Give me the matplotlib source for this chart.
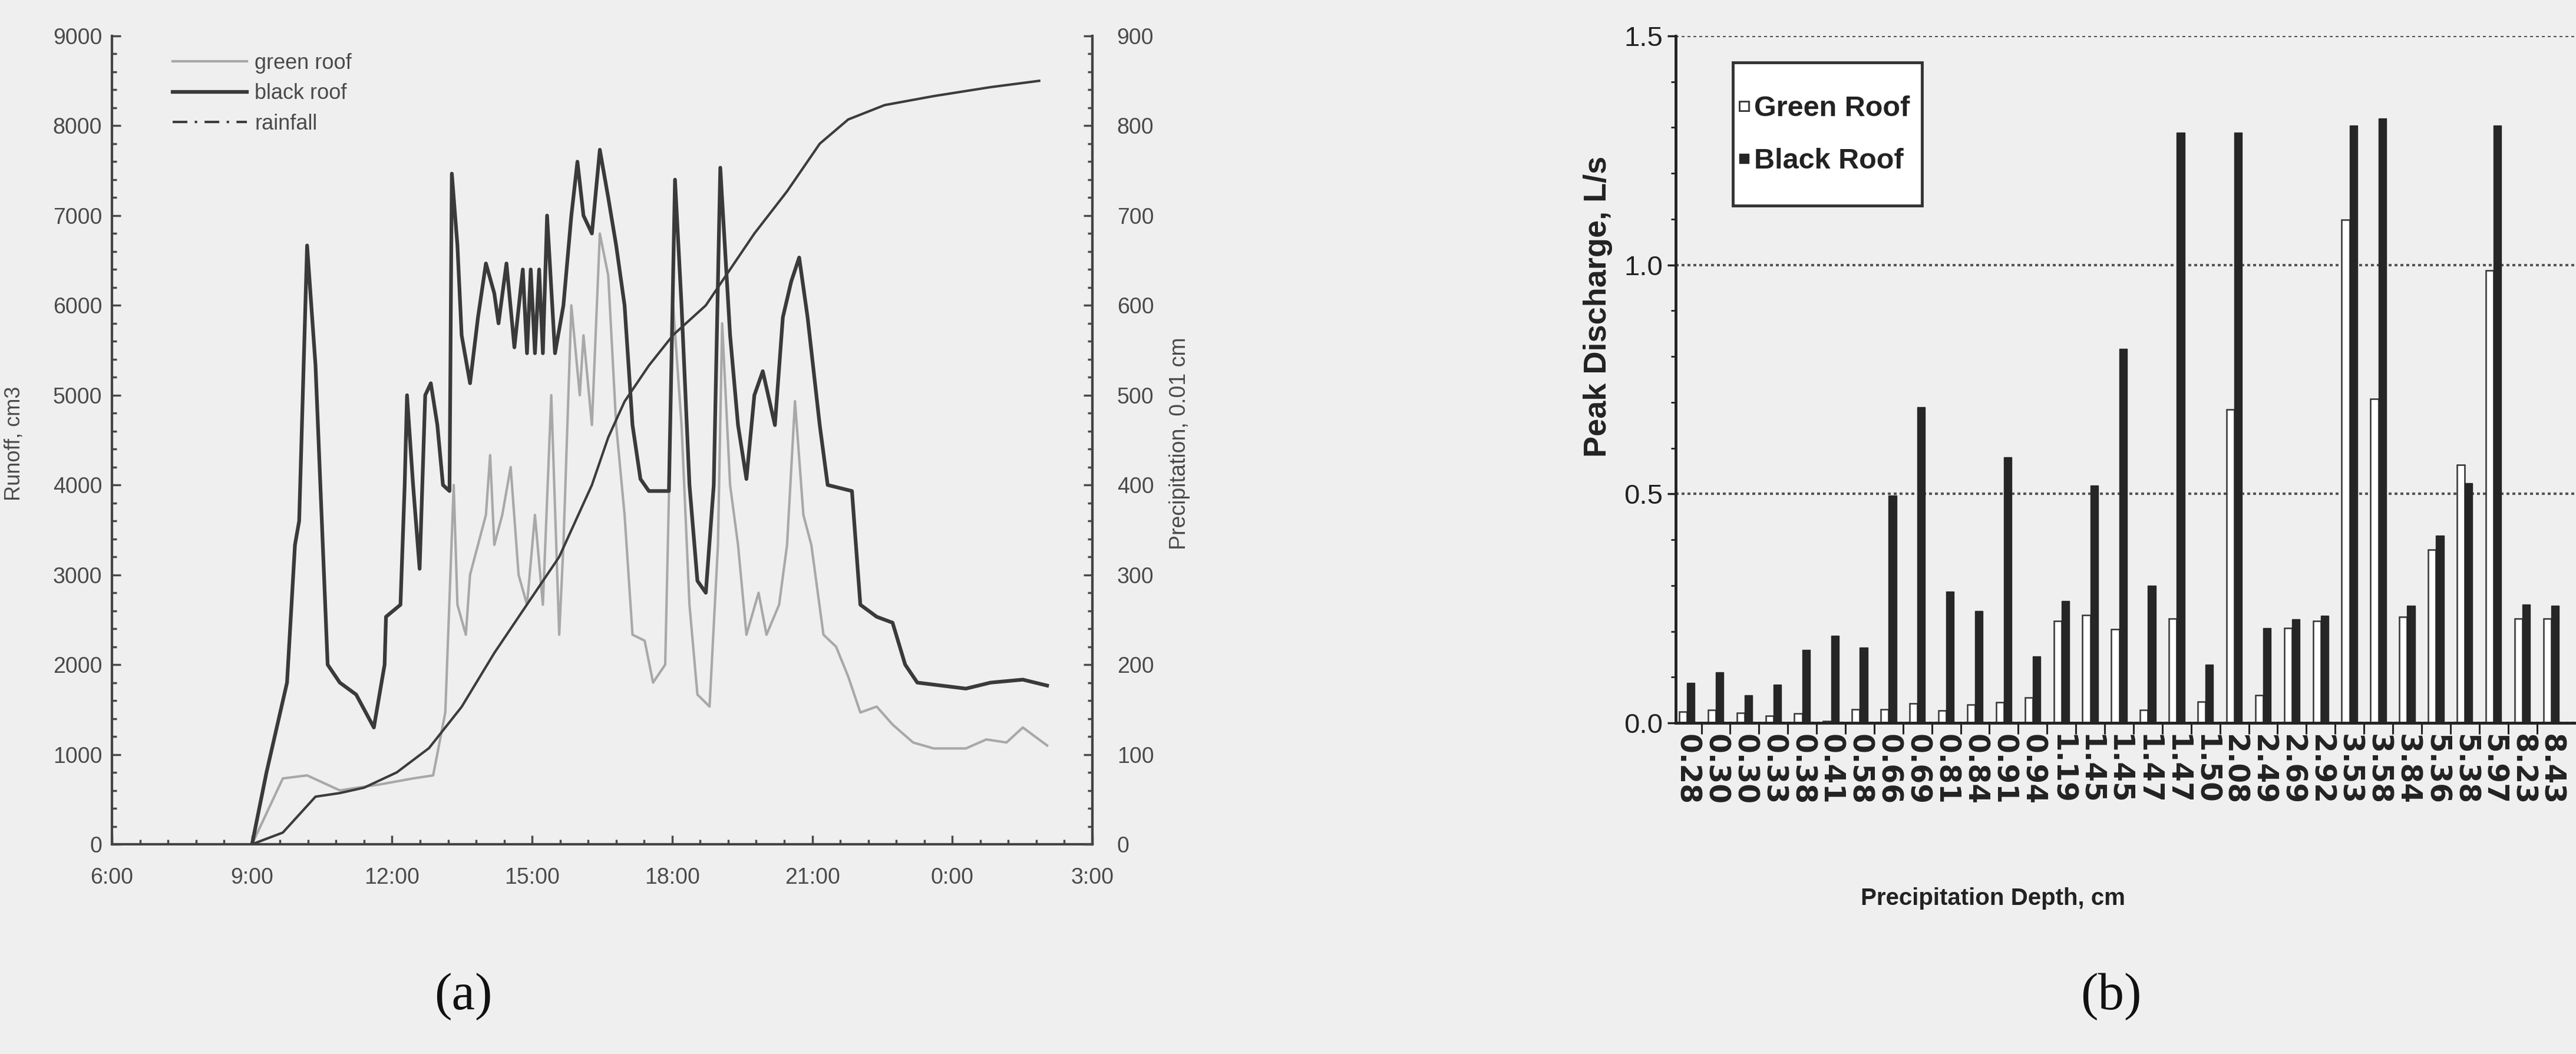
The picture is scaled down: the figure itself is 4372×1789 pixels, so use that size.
import matplotlib
matplotlib.use("Agg")
import matplotlib.pyplot as plt
from matplotlib.lines import Line2D
from matplotlib.patches import Rectangle
from matplotlib.ticker import MultipleLocator, FixedLocator, FuncFormatter
import numpy as np

# ---- panel (a): runoff hydrograph, hours since midnight ----
black_t = [9.00, 9.31, 9.75, 9.92, 10.01, 10.18, 10.36, 10.62, 10.88, 11.23, 11.61, 11.84,
           11.87, 12.18, 12.27, 12.32, 12.45, 12.59, 12.71, 12.83, 12.97, 13.09, 13.23, 13.28,
           13.40, 13.49, 13.67, 13.84, 14.01, 14.19, 14.28, 14.45, 14.62, 14.80, 14.89, 14.97,
           15.06, 15.15, 15.23, 15.32, 15.49, 15.67, 15.84, 15.97, 16.10, 16.28, 16.45, 16.63,
           16.80, 16.98, 17.15, 17.32, 17.50, 17.93, 18.06, 18.20, 18.37, 18.54, 18.72, 18.89,
           19.03, 19.24, 19.41, 19.59, 19.76, 19.94, 20.20, 20.37, 20.55, 20.72, 20.90, 21.16,
           21.33, 21.85, 22.03, 22.38, 22.72, 22.99, 23.25, 24.29, 24.82, 25.51, 26.03]
black_v = [0, 800, 1800, 3333, 3600, 6667, 5333, 2000, 1800, 1667, 1300, 2000,
           2533, 2667, 4000, 5000, 4000, 3067, 5000, 5133, 4667, 4000, 3933, 7467,
           6667, 5667, 5133, 5867, 6467, 6133, 5800, 6467, 5533, 6400, 5467, 6400,
           5467, 6400, 5467, 7000, 5467, 6000, 7000, 7600, 7000, 6800, 7733, 7200,
           6667, 6000, 4667, 4067, 3933, 3933, 7400, 6000, 4000, 2933, 2800, 4000,
           7533, 5667, 4667, 4067, 5000, 5267, 4667, 5867, 6267, 6533, 5867, 4667,
           4000, 3933, 2667, 2533, 2467, 2000, 1800, 1733, 1800, 1833, 1767]

green_t = [9.00, 9.66, 10.18, 10.88, 11.75, 12.45, 12.88, 13.14, 13.32, 13.40, 13.58, 13.67,
           13.84, 14.01, 14.10, 14.19, 14.36, 14.54, 14.71, 14.89, 15.06, 15.23, 15.41, 15.58,
           15.67, 15.84, 16.02, 16.10, 16.28, 16.45, 16.63, 16.80, 16.98, 17.15, 17.41, 17.59,
           17.85, 18.02, 18.20, 18.37, 18.54, 18.80, 18.98, 19.07, 19.24, 19.41, 19.59, 19.85,
           20.02, 20.29, 20.46, 20.63, 20.81, 20.98, 21.24, 21.51, 21.77, 22.03, 22.38, 22.72,
           23.16, 23.60, 24.29, 24.73, 25.16, 25.51, 26.03]
green_v = [0, 733, 767, 600, 667, 733, 767, 1467, 4000, 2667, 2333, 3000,
           3333, 3667, 4333, 3333, 3667, 4200, 3000, 2667, 3667, 2667, 5000, 2333,
           3333, 6000, 5000, 5667, 4667, 6800, 6333, 4667, 3667, 2333, 2267, 1800,
           2000, 6000, 4667, 2667, 1667, 1533, 3333, 5800, 4000, 3333, 2333, 2800,
           2333, 2667, 3333, 4933, 3667, 3333, 2333, 2200, 1867, 1467, 1533, 1333,
           1133, 1067, 1067, 1167, 1133, 1300, 1100]

rain_t = [9.00, 9.66, 10.36, 10.88, 11.40, 12.10, 12.79, 13.49, 14.19, 14.89, 15.58, 16.28,
          16.63, 16.98, 17.50, 18.02, 18.72, 19.07, 19.76, 20.46, 21.16, 21.77, 22.55, 23.60,
          24.82, 25.86]
rain_v = [0, 13, 53, 57, 63, 80, 107, 153, 213, 267, 320, 400,
          453, 493, 533, 567, 600, 627, 680, 727, 780, 807, 823, 833,
          843, 850]

time_ticks = [6, 9, 12, 15, 18, 21, 24, 27]
time_labels = ["6:00", "9:00", "12:00", "15:00", "18:00", "21:00", "0:00", "3:00"]

# ---- panel (b): peak discharge per event ----
depths = ["0.28", "0.30", "0.30", "0.33", "0.38", "0.41", "0.58", "0.66", "0.69", "0.81",
          "0.84", "0.91", "0.94", "1.19", "1.45", "1.45", "1.47", "1.47", "1.50", "2.08",
          "2.49", "2.69", "2.92", "3.53", "3.58", "3.84", "5.36", "5.38", "5.97", "8.23", "8.43"]
green_peak = [0.024, 0.028, 0.022, 0.016, 0.020, 0.004, 0.030, 0.030, 0.043, 0.027,
              0.040, 0.045, 0.055, 0.222, 0.235, 0.205, 0.028, 0.228, 0.046, 0.685,
              0.061, 0.207, 0.222, 1.098, 0.707, 0.232, 0.378, 0.563, 0.988, 0.228, 0.228]
black_peak = [0.088, 0.110, 0.060, 0.083, 0.160, 0.190, 0.165, 0.496, 0.690, 0.287,
              0.244, 0.580, 0.146, 0.266, 0.518, 0.817, 0.300, 1.289, 0.128, 1.289,
              0.207, 0.226, 0.234, 1.305, 1.320, 0.256, 0.409, 0.524, 1.305, 0.259, 0.256]

W, H = 4372, 1789
BG = "#efefef"
plt.rcParams["font.family"] = ["Liberation Sans", "DejaVu Sans"]

fig = plt.figure(figsize=(W / 100, H / 100), dpi=100, facecolor=BG)


def frac_box(x0, y0, x1, y1):
    # pixel box (top-left origin) -> figure fraction rect
    return [x0 / W, 1 - y1 / H, (x1 - x0) / W, (y1 - y0) / H]


# ================= (a) =================
grey_txt = "#4a4a4a"
ax = fig.add_axes(frac_box(190, 61, 1854, 1433))
ax.set_facecolor("none")
ax.plot(green_t, green_v, color="#a8a8a8", lw=3.0)
ax.plot(black_t, black_v, color="#3a3a3a", lw=4.5)
ax.set_xlim(6, 27)
ax.set_ylim(0, 9000)
ax.set_xticks(time_ticks)
ax.set_xticklabels(time_labels)
ax.xaxis.set_minor_locator(MultipleLocator(0.6))
ax.yaxis.set_major_locator(MultipleLocator(1000))
ax.yaxis.set_minor_locator(MultipleLocator(200))
ax.tick_params(which="both", direction="in", colors="#4a4a4a", width=2.5, labelsize=27,
               labelcolor=grey_txt)
ax.tick_params(which="major", length=11)
ax.tick_params(which="minor", length=6)
ax.tick_params(axis="y", pad=12)
ax.tick_params(axis="x", pad=28)
for side in ["left", "bottom", "right"]:
    ax.spines[side].set_linewidth(3)
    ax.spines[side].set_color("#444444")
ax.spines["top"].set_visible(False)

ax2 = ax.twinx()
ax2.set_facecolor("none")
ax2.plot(rain_t, rain_v, color="#3c3c3c", lw=3.0)
ax2.set_ylim(0, 900)
ax2.yaxis.set_major_locator(MultipleLocator(100))
ax2.yaxis.set_minor_locator(MultipleLocator(20))
ax2.tick_params(which="both", direction="in", colors="#4a4a4a", width=2.5, labelsize=27,
                labelcolor=grey_txt, pad=30)
ax2.tick_params(which="major", length=11)
ax2.tick_params(which="minor", length=6)
for side in ["left", "bottom", "top"]:
    ax2.spines[side].set_visible(False)
ax2.spines["right"].set_linewidth(3)
ax2.spines["right"].set_color("#444444")

legend_a = [
    Line2D([], [], color="#a8a8a8", lw=3.0),
    Line2D([], [], color="#3a3a3a", lw=4.5),
    Line2D([], [], color="#3c3c3c", lw=3.0, linestyle=(0, (6, 3, 1, 3))),
]
ax.legend(legend_a, ["green roof", "black roof", "rainfall"], loc="upper left",
          bbox_to_anchor=(293 / W, 1 - 90 / H), bbox_transform=fig.transFigure,
          frameon=False, fontsize=26, handlelength=3.5, handletextpad=0.35,
          labelspacing=0.45, borderaxespad=0, borderpad=0, labelcolor=grey_txt)

fig.text(24 / W, 1 - 753 / H, "Runoff, cm3", rotation=90, ha="center", va="center",
         fontsize=26, color=grey_txt)
fig.text(2002 / W, 1 - 753 / H, "Precipitation, 0.01 cm", rotation=90, ha="center",
         va="center", fontsize=27, color=grey_txt)

# ================= (b) =================
dark = "#222222"
bx = fig.add_axes(frac_box(2844, 61, W, 1227))
bx.set_facecolor("none")
idx = np.arange(len(depths))
bw = 0.27
bx.bar(idx - bw / 2, green_peak, width=bw, facecolor="white", edgecolor="#333333",
       linewidth=1.8, zorder=3)
bx.bar(idx + bw / 2, black_peak, width=bw, facecolor="#262626", edgecolor="#262626",
       linewidth=1.0, zorder=3)
bx.set_xlim(-0.39, 30.86)
bx.set_ylim(0, 1.5)
bx.set_yticks([0, 0.5, 1.0, 1.5])
bx.yaxis.set_major_formatter(FuncFormatter(lambda v, p: f"{v:.1f}"))
bx.yaxis.set_minor_locator(MultipleLocator(0.1))
bx.yaxis.grid(True, which="major", linestyle=(0, (1.2, 1.2)), color="#555555", lw=3.0,
              zorder=1)
bx.set_xticks(idx)
bx.set_xticklabels(depths, rotation=-90, fontsize=35, fontweight="bold", color=dark,
                   family=["DejaVu Sans"])
bx.xaxis.set_minor_locator(FixedLocator(idx[:-1] + 0.5))
bx.tick_params(axis="x", which="major", length=0, pad=14)
bx.tick_params(axis="x", which="minor", direction="out", length=14, width=2.2, color=dark)
bx.tick_params(axis="y", which="major", direction="out", length=10, width=2.5, color=dark,
               pad=6, labelsize=34, labelcolor=dark)
bx.tick_params(axis="y", which="minor", direction="out", length=6, width=2.0, color=dark)
for side in ["left", "bottom"]:
    bx.spines[side].set_linewidth(3.5)
    bx.spines[side].set_color(dark)
    bx.spines[side].set_zorder(4)
bx.spines["top"].set_visible(False)
bx.spines["right"].set_visible(False)

# legend frame drawn as a plain box, legend entries on top of it
bx.add_patch(Rectangle((2941 / W, 1 - 349 / H), (3262 - 2941) / W, (349 - 106) / H,
                       transform=fig.transFigure, facecolor="white", edgecolor="#333333",
                       linewidth=3.5, zorder=5, clip_on=False))
legend_b = [
    Line2D([], [], marker="s", linestyle="none", markersize=12, markerfacecolor="white",
           markeredgecolor="#333333", markeredgewidth=2),
    Line2D([], [], marker="s", linestyle="none", markersize=12, markerfacecolor="#262626",
           markeredgecolor="#262626"),
]
lg = bx.legend(legend_b, ["Green Roof", "Black Roof"], loc="upper left",
               bbox_to_anchor=(2950 / W, 1 - 162 / H), bbox_transform=fig.transFigure,
               borderaxespad=0, borderpad=0, frameon=False,
               handlelength=0.4, handletextpad=0.15, labelspacing=0.9,
               prop={"weight": "bold", "size": 35})
for t in lg.get_texts():
    t.set_color(dark)
lg.set_zorder(6)

fig.text(2712 / W, 1 - 520 / H, "Peak Discharge, L/s", rotation=90, ha="center",
         va="center", fontsize=39, fontweight="bold", color=dark)
fig.text(3382 / W, 1 - 1525 / H, "Precipitation Depth, cm", ha="center", va="center",
         fontsize=29, fontweight="bold", color=dark)

# panel captions
fig.text(786 / W, 1 - 1692 / H, "(a)", ha="center", va="center", fontsize=64,
         family=["Liberation Serif", "DejaVu Serif"], color="#111111")
fig.text(3583 / W, 1 - 1692 / H, "(b)", ha="center", va="center", fontsize=64,
         family=["Liberation Serif", "DejaVu Serif"], color="#111111")

fig.savefig("out.png", dpi=100, facecolor=BG)
